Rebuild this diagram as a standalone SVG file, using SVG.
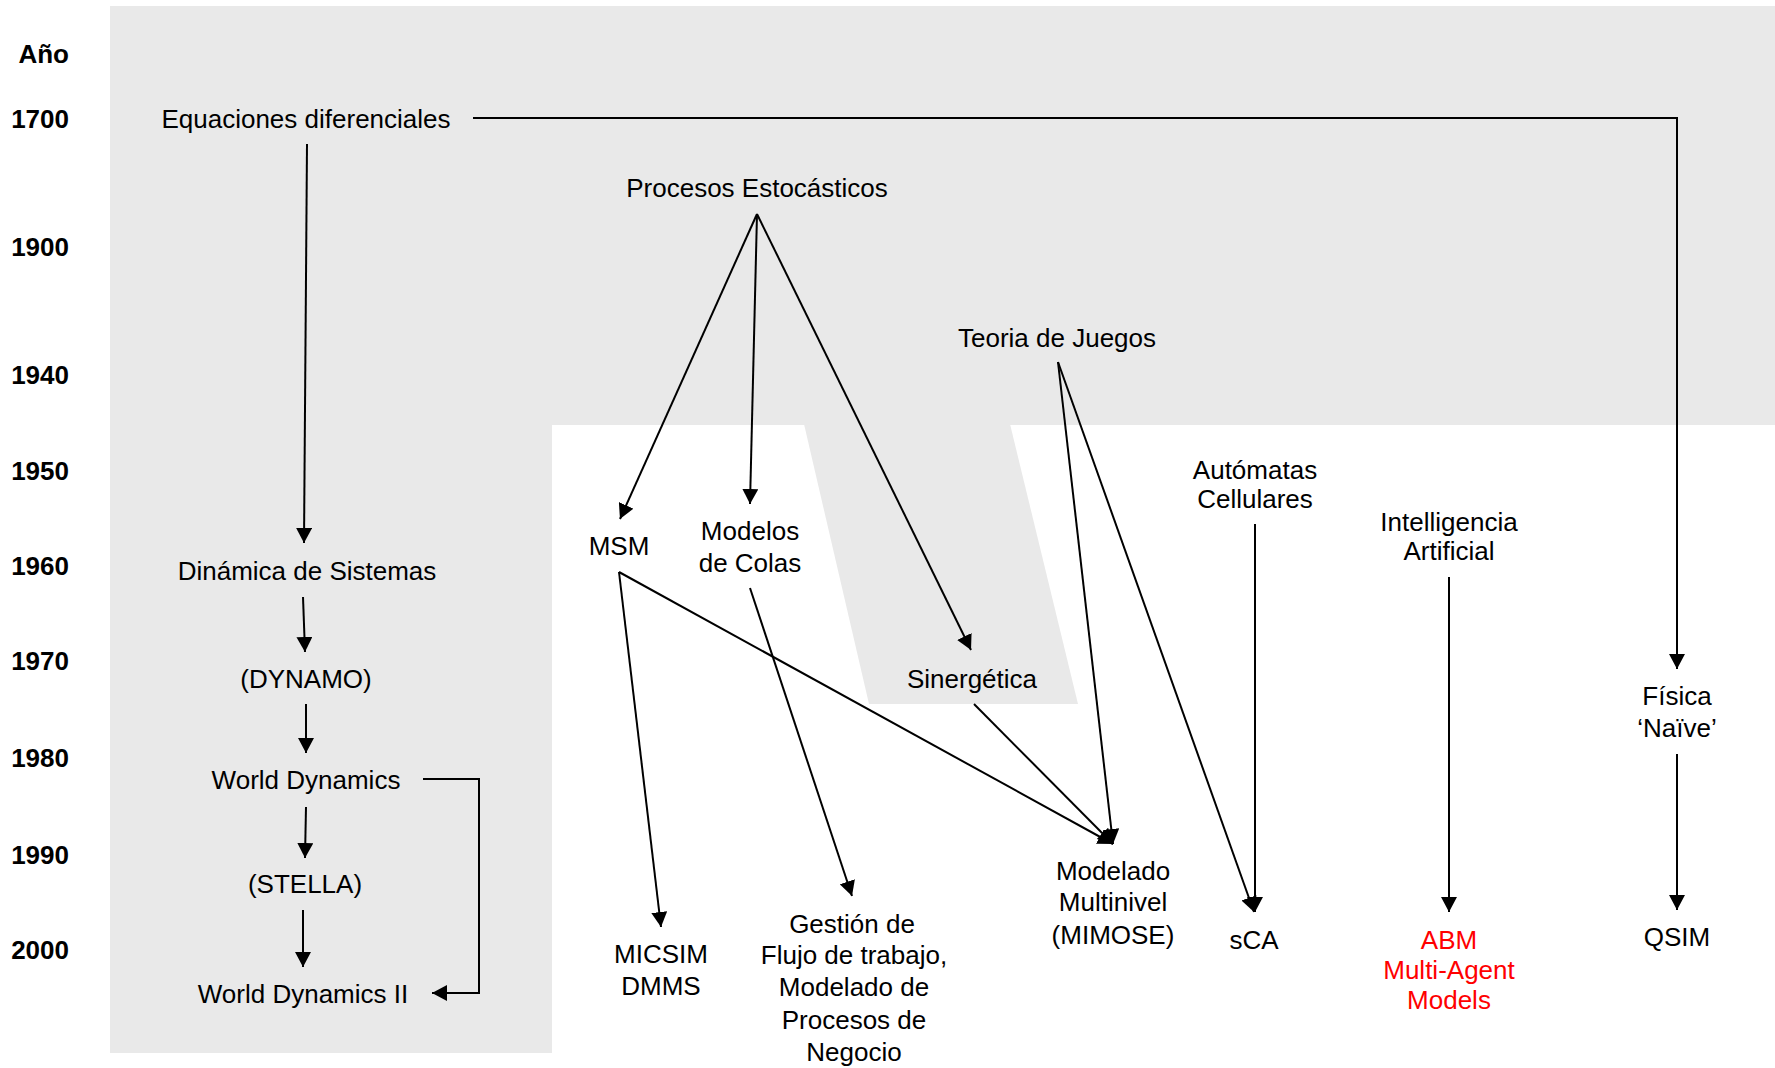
<svg xmlns="http://www.w3.org/2000/svg" width="1775" height="1068" viewBox="0 0 1775 1068">
<style>
.bg{fill:#e9e9e9;stroke:none}
.yr{font-family:"Liberation Sans",Arial,sans-serif;font-size:26px;font-weight:bold;fill:#000;text-anchor:end}
.t{font-family:"Liberation Sans",Arial,sans-serif;font-size:26px;fill:#000;text-anchor:middle}
.red{fill:#ff0000}
.c{fill:none;stroke:#000;stroke-width:2}
.a{marker-end:url(#ah)}
</style>
<defs>
<marker id="ah" markerUnits="userSpaceOnUse" markerWidth="15" markerHeight="16" refX="15" refY="8" viewBox="0 0 15 16" orient="auto">
<path d="M0,0 L15,8 L0,16 z" fill="#000"/>
</marker>
</defs>
<g id="background">
<rect class="bg" x="110" y="6" width="1665" height="419"/>
<rect class="bg" x="110" y="424" width="442" height="629"/>
<polygon class="bg" points="804,424 1010,424 1078,704 869,704"/>
</g>
<g id="years">
<text class="yr" x="69" y="63">Año</text>
<text class="yr" x="69" y="128">1700</text>
<text class="yr" x="69" y="256">1900</text>
<text class="yr" x="69" y="384">1940</text>
<text class="yr" x="69" y="480">1950</text>
<text class="yr" x="69" y="575">1960</text>
<text class="yr" x="69" y="670">1970</text>
<text class="yr" x="69" y="767">1980</text>
<text class="yr" x="69" y="864">1990</text>
<text class="yr" x="69" y="959">2000</text>
</g>
<g id="connectors">
<line class="c a" x1="307" y1="144" x2="304" y2="543"/>
<polyline class="c a" points="473,118 1677,118 1677,669"/>
<line class="c a" x1="757" y1="214" x2="620" y2="519"/>
<line class="c a" x1="757" y1="214" x2="750" y2="504"/>
<line class="c a" x1="757" y1="214" x2="971" y2="650"/>
<line class="c a" x1="1058" y1="362" x2="1113" y2="844"/>
<line class="c a" x1="1058" y1="362" x2="1254" y2="912"/>
<line class="c a" x1="1255" y1="524" x2="1255" y2="912"/>
<line class="c a" x1="1449" y1="577" x2="1449" y2="912"/>
<line class="c a" x1="1677" y1="754" x2="1677" y2="910"/>
<line class="c a" x1="619" y1="572" x2="661" y2="927"/>
<line class="c a" x1="619" y1="572" x2="1113" y2="844"/>
<line class="c a" x1="750" y1="588" x2="852" y2="896"/>
<line class="c a" x1="974" y1="704" x2="1113" y2="844"/>
<line class="c a" x1="303" y1="597" x2="305" y2="652"/>
<line class="c a" x1="306" y1="704" x2="306" y2="753"/>
<line class="c a" x1="306" y1="807" x2="305" y2="858"/>
<line class="c a" x1="303" y1="910" x2="303" y2="967"/>
<polyline class="c a" points="423,779 479,779 479,993 432,993"/>
</g>
<g id="n-equaciones"><text class="t" x="306" y="128">Equaciones diferenciales</text></g>
<g id="n-procesos"><text class="t" x="757" y="197">Procesos Estocásticos</text></g>
<g id="n-teoria"><text class="t" x="1057" y="347">Teoria de Juegos</text></g>
<g id="n-automatas"><text class="t" x="1255" y="479">Autómatas</text><text class="t" x="1255" y="508">Cellulares</text></g>
<g id="n-intelligencia"><text class="t" x="1449" y="531">Intelligencia</text><text class="t" x="1449" y="560">Artificial</text></g>
<g id="n-msm"><text class="t" x="619" y="555">MSM</text></g>
<g id="n-modelos"><text class="t" x="750" y="540">Modelos</text><text class="t" x="750" y="572">de Colas</text></g>
<g id="n-sinergetica"><text class="t" x="972" y="688">Sinergética</text></g>
<g id="n-dinamica"><text class="t" x="307" y="580">Dinámica de Sistemas</text></g>
<g id="n-dynamo"><text class="t" x="306" y="688">(DYNAMO)</text></g>
<g id="n-worlddynamics"><text class="t" x="306" y="789">World Dynamics</text></g>
<g id="n-stella"><text class="t" x="305" y="893">(STELLA)</text></g>
<g id="n-worlddynamics2"><text class="t" x="303" y="1003">World Dynamics II</text></g>
<g id="n-fisica"><text class="t" x="1677" y="705">Física</text><text class="t" x="1677" y="737">‘Naïve’</text></g>
<g id="n-modelado"><text class="t" x="1113" y="880">Modelado</text><text class="t" x="1113" y="911">Multinivel</text><text class="t" x="1113" y="944">(MIMOSE)</text></g>
<g id="n-micsim"><text class="t" x="661" y="963">MICSIM</text><text class="t" x="661" y="995">DMMS</text></g>
<g id="n-gestion"><text class="t" x="852" y="933">Gestión de</text><text class="t" x="854" y="964">Flujo de trabajo,</text><text class="t" x="854" y="996">Modelado de</text><text class="t" x="854" y="1029">Procesos de</text><text class="t" x="854" y="1061">Negocio</text></g>
<g id="n-sca"><text class="t" x="1254" y="949">sCA</text></g>
<g id="n-abm"><text class="t red" x="1449" y="949">ABM</text><text class="t red" x="1449" y="979">Multi-Agent</text><text class="t red" x="1449" y="1009">Models</text></g>
<g id="n-qsim"><text class="t" x="1677" y="946">QSIM</text></g>
</svg>
